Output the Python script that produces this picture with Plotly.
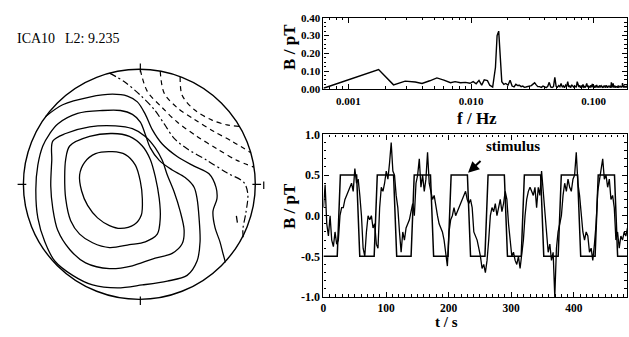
import numpy as np
import plotly.graph_objects as go

W, H = 629, 337
SERIF = "Liberation Serif"

# ---------------- data: amplitude spectrum (B / pT vs f / Hz) ----------------
SPEC_LO_F = [0.000625, 0.00176, 0.00233, 0.0029, 0.0035, 0.00398, 0.0046, 0.00526, 0.0060,
             0.0068, 0.0074, 0.0082, 0.0090, 0.0098, 0.0104, 0.0110, 0.0116, 0.0122, 0.0128,
             0.0136, 0.0142, 0.0150, 0.0158, 0.0163, 0.0168, 0.0173, 0.0178, 0.0185, 0.0192,
             0.0200, 0.0208, 0.0216, 0.0224, 0.0232, 0.0240, 0.0248, 0.0256, 0.0264, 0.0272,
             0.0280, 0.0290, 0.0300, 0.0310, 0.0320, 0.0330, 0.0340, 0.0350]
SPEC_LO_V = [0.003, 0.108, 0.022, 0.043, 0.038, 0.030, 0.045, 0.061, 0.049,
             0.034, 0.040, 0.034, 0.036, 0.031, 0.040, 0.028, 0.047, 0.020, 0.050,
             0.046, 0.020, 0.010, 0.120, 0.300, 0.325, 0.200, 0.040, 0.025, 0.030,
             0.020, 0.048, 0.015, 0.010, 0.025, 0.018, 0.020, 0.012, 0.015, 0.008,
             0.010, 0.012, 0.012, 0.018, 0.026, 0.034, 0.022, 0.012]
SPEC_HI_F0 = 0.0362   # first high-frequency bin (Hz)
SPEC_HI_DF = 0.0012   # bin spacing (Hz)
SPEC_HI_V = [0.012, 0.008, 0.015, 0.010, 0.006, 0.014, 0.036, 0.010, 0.007, 0.012,
             0.065, 0.014, 0.008, 0.018, 0.011, 0.030, 0.009, 0.016, 0.006, 0.020,
             0.012, 0.040, 0.010, 0.015, 0.007, 0.022, 0.013, 0.009, 0.017, 0.011,
             0.008, 0.040, 0.014, 0.010, 0.019, 0.006, 0.015, 0.011, 0.024, 0.009,
             0.013, 0.007, 0.018, 0.030, 0.010, 0.014, 0.006, 0.016, 0.011, 0.020,
             0.008, 0.028, 0.012, 0.009, 0.017, 0.005, 0.014, 0.010, 0.022, 0.007,
             0.015, 0.011, 0.006, 0.019, 0.012, 0.008, 0.016, 0.010, 0.013, 0.005,
             0.017, 0.009, 0.014, 0.011, 0.007, 0.020, 0.010, 0.013, 0.006, 0.015,
             0.010, 0.018, 0.008, 0.012, 0.016, 0.005, 0.036, 0.011, 0.009, 0.014,
             0.030, 0.007, 0.013, 0.010, 0.017, 0.006, 0.012, 0.015, 0.008, 0.011,
             0.014, 0.006, 0.018, 0.010, 0.012, 0.008, 0.016, 0.009, 0.013, 0.011,
             0.007, 0.015, 0.010, 0.032, 0.009, 0.013, 0.006, 0.017, 0.011, 0.012,
             0.008, 0.014, 0.010, 0.016, 0.007, 0.012, 0.010]
SPEC_X_TICKS = [0.001, 0.01, 0.1]
SPEC_X_TICKTEXT = ["0.001", "0.010", "0.100"]
SPEC_Y_TICKS = [0.0, 0.1, 0.2, 0.3, 0.4]
SPEC_Y_TICKTEXT = ["0.00", "0.10", "0.20", "0.30", "0.40"]

# ---------------- data: time course (B / pT vs t / s) ----------------
SIG_DT = 2.64  # sampling interval of the read-off trace (s)
SIG_V = [
    0.10, 0.38, -0.10, -0.25, 0.00, -0.30, -0.38, -0.20, -0.35, -0.30,
    0.00, 0.10, 0.10, 0.20, 0.25, 0.30, 0.35, 0.40, 0.30, 0.58,
    0.40, 0.45, 0.25, 0.00, -0.40, -0.50, -0.20, 0.00, -0.05, 0.00,
    -0.15, -0.10, -0.35, -0.40, 0.10, 0.35, 0.30, 0.40, 0.55, 0.45,
    0.65, 0.90, 0.55, 0.50, 0.25, 0.10, -0.20, -0.45, -0.20, -0.30,
    -0.15, -0.10, -0.05, 0.05, 0.15, 0.00, 0.40, 0.50, 0.70, 0.35,
    0.50, 0.30, 0.45, 0.78, 0.40, 0.30, 0.20, 0.25, 0.10, 0.00,
    -0.10, -0.15, -0.20, -0.30, -0.45, -0.62, -0.20, -0.05, 0.00, 0.10,
    0.00, 0.05, 0.10, 0.15, 0.20, 0.25, 0.30, 0.20, 0.15, 0.20,
    0.10, -0.20, -0.25, -0.30, -0.40, -0.50, -0.65, -0.60, -0.70, -0.55,
    -0.30, 0.00, 0.10, 0.05, 0.15, 0.00, 0.10, 0.20, 0.05, 0.15,
    0.30, 0.20, -0.10, -0.30, -0.50, -0.45, -0.55, -0.60, -0.50, -0.65,
    -0.45, -0.30, 0.00, 0.20, 0.30, 0.35, 0.30, 0.25, 0.35, 0.10,
    0.35, 0.25, 0.55, 0.30, 0.05, -0.30, -0.45, -0.35, -0.55, -0.45,
    -1.00, -0.40, -0.20, -0.10, 0.00, 0.25, 0.40, 0.30, 0.45, 0.35,
    0.30, 0.45, 0.50, 0.78, 0.40, 0.25, 0.05, -0.20, -0.30, -0.20,
    -0.25, -0.45, -0.40, -0.55, -0.35, -0.10, 0.30, 0.45, 0.55, 0.70,
    0.45, 0.50, 0.35, 0.45, 0.20, 0.25, 0.10, -0.30, -0.20, -0.40,
    -0.25, -0.30, -0.20, -0.25, -0.15, -0.20]
STIM_T = [0, 22, 27, 53, 58, 81, 86, 112, 117, 140, 145, 171, 176, 199, 204, 230, 235,
          258, 263, 289, 294, 316, 321, 347, 352, 375, 380, 406, 411, 434, 439, 465, 470, 485]
STIM_V = [-0.5] + [-0.5, 0.5, 0.5, -0.5] * 8 + [-0.5]
TC_X_TICKS = [0, 100, 200, 300, 400]
TC_Y_TICKS = [-1.0, -0.5, 0.0, 0.5, 1.0]
TC_Y_TICKTEXT = ["-1.0", "-0.5", "0.0", "0.5", "1.0"]
STIM_POINT = (231, 0.53)   # where the "stimulus" arrow points

# ---------------- data: field map isolines (map units, centre = 0,0) ----------------
POS_1 = [(-27, 36), (-14, 33), (-4, 22), (1, 5), (3, -13), (2, -30), (-5, -40), (-19, -44),
         (-30, -41), (-42, -33), (-52, -20), (-58, -5), (-60, 12), (-55, 25), (-44, 34), (-27, 36)]
POS_2 = [(-70, 42), (-50, 52), (-27, 55), (-10, 52), (3, 42), (11, 28), (16, 10), (20, -13),
         (21, -33), (18, -50), (6, -58), (-10, -61), (-30, -64), (-47, -59), (-60, -50),
         (-69, -36), (-74, -13), (-75, 10), (-74, 28), (-70, 42)]
POS_3 = [(-87, 47), (-74, 55), (-50, 62), (-24, 63), (-7, 60), (6, 52), (16, 40), (23, 27),
         (28, 12), (35, -6), (41, -26), (45, -46), (43, -60), (33, -70), (13, -76), (-7, -83),
         (-30, -86), (-54, -80), (-70, -66), (-82, -46), (-87, -23), (-89, 0), (-88, 27), (-87, 47)]
POS_4 = [(-82, 65), (-62, 76), (-37, 79), (-19, 79), (-7, 75), (1, 67), (6, 54), (11, 40),
         (20, 27), (33, 17), (46, 9), (55, -1), (58, -13), (60, -33), (61, -58), (58, -78),
         (48, -93), (28, -99), (3, -103), (-22, -106), (-47, -103), (-67, -93), (-85, -78),
         (-95, -58), (-102, -33), (-104, -3), (-102, 22), (-97, 42), (-90, 55), (-82, 65)]
POS_5 = [(-94.5, 72.5), (-77, 85), (-50, 93), (-27, 96), (-12, 94), (-2, 88), (6, 75), (13, 59),
         (23, 44), (38, 31), (55, 21), (70, 13), (77, -1), (78, -13), (74, -26), (76, -43),
         (81, -58), (84, -70), (86.5, -79.5)]
ZERO = [(-30, 118), (-15, 109), (1, 95), (15, 80), (25, 65), (35, 50), (48, 39), (68, 27),
        (88, 14), (105, 4), (109, -8), (107, -28), (104, -45), (104.5, -55)]
NEG_1 = [(1, 121.5), (8, 99), (23, 82), (38, 67), (58, 52), (78, 39), (98, 27), (115, 20)]
NEG_2 = [(21, 120), (25, 97), (38, 82), (55, 70), (75, 57), (93, 47), (112, 35)]
NEG_3 = [(41, 114), (43, 95), (55, 80), (73, 69), (88, 64), (100.5, 62.5)]
SPECK = [(97.5, -31), (98.5, -38)]
HEAD = dict(cx=0, cy=2, rx=116.5, ry=120)

# ---------------- figure ----------------
fig = go.Figure()

spec_f = SPEC_LO_F + [SPEC_HI_F0 + i * SPEC_HI_DF for i in range(len(SPEC_HI_V))]
spec_v = SPEC_LO_V + SPEC_HI_V
fig.add_trace(go.Scatter(x=spec_f, y=spec_v, mode="lines", xaxis="x", yaxis="y",
                         line=dict(color="black", width=1.4), hoverinfo="skip"))

sig_t = [i * SIG_DT for i in range(len(SIG_V))]
fig.add_trace(go.Scatter(x=STIM_T, y=STIM_V, mode="lines", xaxis="x2", yaxis="y2",
                         line=dict(color="black", width=1.5), hoverinfo="skip"))
fig.add_trace(go.Scatter(x=sig_t, y=SIG_V, mode="lines", xaxis="x2", yaxis="y2",
                         line=dict(color="black", width=1.3), hoverinfo="skip"))


def iso(pts, dash="solid", width=1.3, shape="spline"):
    xs = [p[0] for p in pts]
    ys = [p[1] for p in pts]
    fig.add_trace(go.Scatter(x=xs, y=ys, mode="lines", xaxis="x3", yaxis="y3",
                             line=dict(color="black", width=width, dash=dash,
                                       shape=shape, smoothing=0.9),
                             hoverinfo="skip"))


for c in (POS_1, POS_2, POS_3, POS_4, POS_5):
    iso(c)
iso(ZERO, dash="7px,3px,2px,3px", width=1.2)
for c in (NEG_1, NEG_2, NEG_3):
    iso(c, dash="5px,4px", width=1.2)
iso(SPECK, width=1.3, shape="linear")

axfont = dict(family=SERIF, size=11, color="black", weight="bold")
common = dict(showline=True, mirror="allticks", linecolor="black", linewidth=1.2,
              ticks="inside", tickcolor="black", tickwidth=1, showgrid=False,
              zeroline=False, tickfont=axfont)

X0, X1 = 322 / W, 627 / W
fig.update_layout(
    width=W, height=H, margin=dict(l=0, r=0, t=0, b=0),
    paper_bgcolor="white", plot_bgcolor="white", showlegend=False,
    xaxis=dict(type="log", range=[np.log10(0.000625), np.log10(0.187)], domain=[X0, X1],
               anchor="y", tickvals=SPEC_X_TICKS, ticktext=SPEC_X_TICKTEXT, ticklen=5,
               ticklabelstandoff=2,
               minor=dict(ticks="inside", ticklen=2.5, dtick="D1", tickcolor="black",
                          showgrid=False),
               **common),
    yaxis=dict(range=[0, 0.4], domain=[1 - 85.3 / H, 1 - 11.3 / H], anchor="x",
               tickvals=SPEC_Y_TICKS, ticktext=SPEC_Y_TICKTEXT, ticklen=5,
               minor=dict(ticks="inside", ticklen=2.5, dtick=0.025, tickcolor="black",
                          showgrid=False),
               **common),
    xaxis2=dict(range=[0, 485], domain=[X0, X1], anchor="y2", tickvals=TC_X_TICKS, ticklen=5,
                ticklabelstandoff=0,
                minor=dict(ticks="inside", ticklen=2.5, dtick=10, tickcolor="black",
                           showgrid=False),
                **common),
    yaxis2=dict(range=[-1, 1], domain=[1 - 302.5 / H, 1 - 133 / H], anchor="x2",
                tickvals=TC_Y_TICKS, ticktext=TC_Y_TICKTEXT, ticklen=5,
                minor=dict(ticks="inside", ticklen=2.5, dtick=0.1, tickcolor="black",
                           showgrid=False),
                **common),
    xaxis3=dict(range=[-137, 137], domain=[0, 274 / W], anchor="y3", visible=False),
    yaxis3=dict(range=[-130, 130], domain=[20 / H, 280 / H], anchor="x3", visible=False),
)
fig.update_layout(xaxis_tickfont_size=11, yaxis_tickfont_size=11,
                  xaxis2_tickfont_size=11.5, yaxis2_tickfont_size=12)

# head outline and its four tick marks
shapes = [dict(type="circle", xref="x3", yref="y3",
               x0=HEAD["cx"] - HEAD["rx"], x1=HEAD["cx"] + HEAD["rx"],
               y0=HEAD["cy"] - HEAD["ry"], y1=HEAD["cy"] + HEAD["ry"],
               line=dict(color="black", width=1.4))]
for (dx, dy) in [(0, 1), (0, -1), (-1, 0), (1, 0)]:
    r_in, r_out = 0.975, 1.05
    shapes.append(dict(type="line", xref="x3", yref="y3",
                       x0=HEAD["cx"] + dx * HEAD["rx"] * r_in + (1 if dx == 0 else 0),
                       x1=HEAD["cx"] + dx * HEAD["rx"] * r_out + (1 if dx == 0 else 0),
                       y0=HEAD["cy"] + dy * HEAD["ry"] * r_in,
                       y1=HEAD["cy"] + dy * HEAD["ry"] * r_out,
                       line=dict(color="black", width=1.2)))
# small stray mark left of the lower panel (present in the original)
shapes.append(dict(type="line", xref="paper", yref="paper", x0=262 / W, x1=262 / W,
                   y0=1 - 190 / H, y1=1 - 182 / H, line=dict(color="black", width=1.2)))
fig.update_layout(shapes=shapes)

title_font = dict(family=SERIF, size=14, color="black")
lab_font = dict(family=SERIF, size=17, color="black", weight="bold")
ann = [
    dict(text="ICA10", x=12 / W, y=1 - 33 / H, xref="paper", yref="paper",
         xanchor="left", yanchor="middle", showarrow=False, font=title_font),
    dict(text="L2: 9.235", x=60 / W, y=1 - 33 / H, xref="paper", yref="paper",
         xanchor="left", yanchor="middle", showarrow=False, font=title_font),
    dict(text="B / pT", x=288 / W, y=1 - 42 / H, xref="paper", yref="paper", textangle=-90,
         xanchor="center", yanchor="middle", showarrow=False, font=lab_font),
    dict(text="f / Hz", x=476 / W, y=1 - 116 / H, xref="paper", yref="paper",
         xanchor="center", yanchor="middle", showarrow=False, font=lab_font),
    dict(text="B / pT", x=288 / W, y=1 - 208 / H, xref="paper", yref="paper", textangle=-90,
         xanchor="center", yanchor="middle", showarrow=False, font=lab_font),
    dict(text="t / s", x=446 / W, y=1 - 329 / H, xref="paper", yref="paper",
         xanchor="center", yanchor="middle", showarrow=False,
         font=dict(family=SERIF, size=15, color="black", weight="bold")),
    dict(text="stimulus", x=483 / W, y=1 - 145 / H, xref="paper", yref="paper",
         xanchor="left", yanchor="middle", showarrow=False,
         font=dict(family=SERIF, size=15, color="black", weight="bold")),
    dict(text="", x=STIM_POINT[0], y=STIM_POINT[1], xref="x2", yref="y2",
         showarrow=True, ax=14, ay=-13, arrowhead=2, arrowsize=1.1, arrowwidth=2,
         arrowcolor="black"),
]
fig.update_layout(annotations=ann)

fig.write_html("out.html")
